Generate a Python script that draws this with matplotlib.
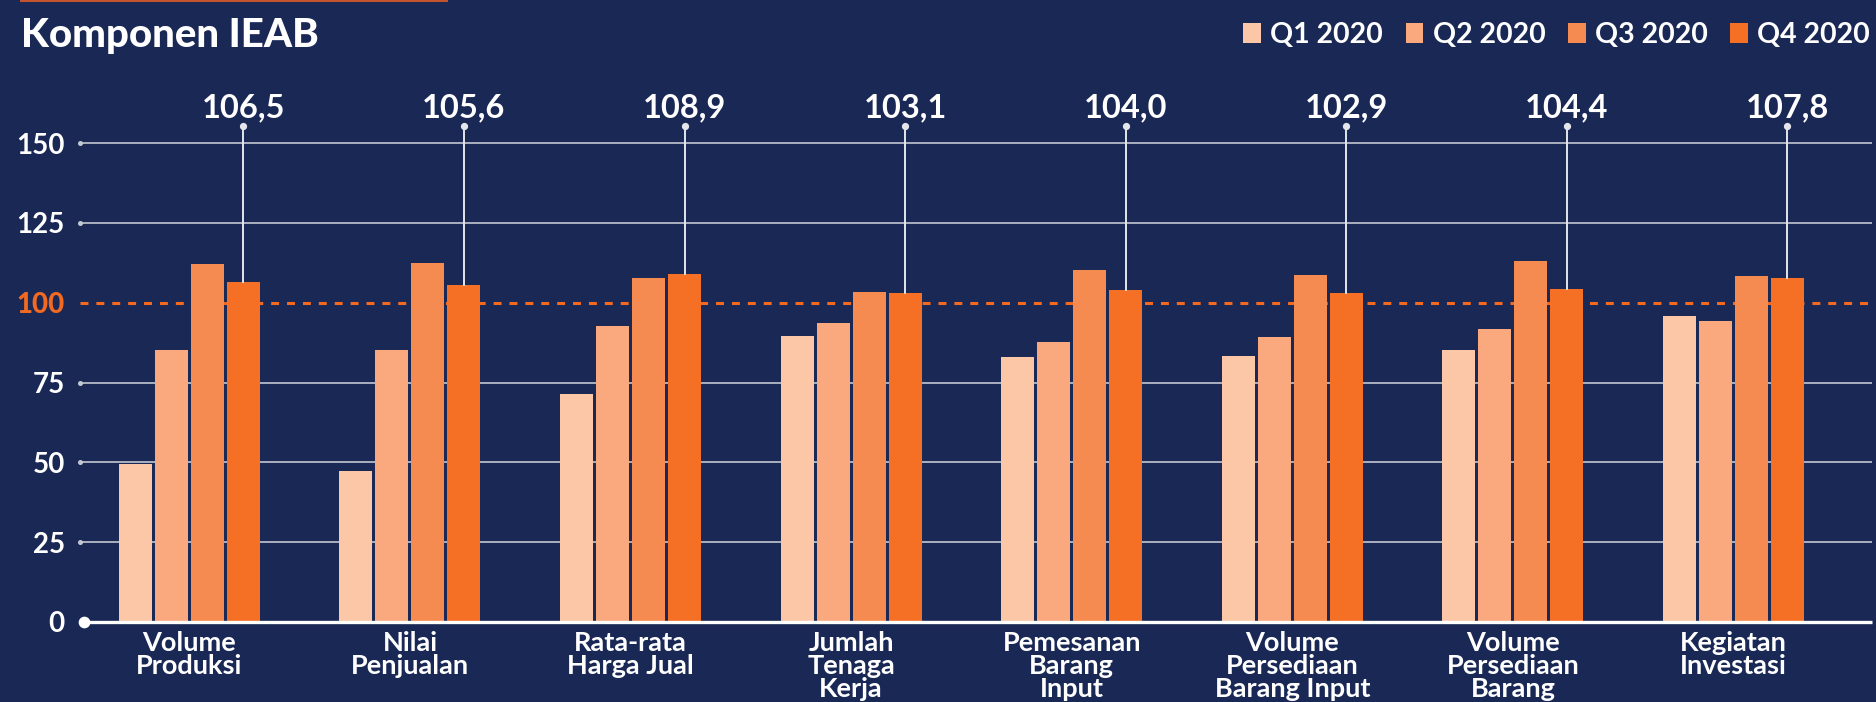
import matplotlib
matplotlib.use("Agg")
import matplotlib.pyplot as plt
from matplotlib.lines import Line2D
import numpy as np

plt.rcParams['font.family'] = ['Lato', 'DejaVu Sans']

# --- data -------------------------------------------------------------
categories = [
    "Volume\nProduksi",
    "Nilai\nPenjualan",
    "Rata-rata\nHarga Jual",
    "Jumlah\nTenaga\nKerja",
    "Pemesanan\nBarang\nInput",
    "Volume\nPersediaan\nBarang Input",
    "Volume\nPersediaan\nBarang",
    "Kegiatan\nInvestasi",
]
quarters = ["Q1 2020", "Q2 2020", "Q3 2020", "Q4 2020"]
q1_2020 = [49.6, 47.4, 71.5, 89.6, 83.0, 83.3, 85.2, 95.8]
q2_2020 = [85.2, 85.2, 92.7, 93.6, 87.7, 89.3, 91.8, 94.3]
q3_2020 = [112.1, 112.4, 107.7, 103.3, 110.2, 108.6, 113.0, 108.3]
q4_2020 = [106.5, 105.6, 108.9, 103.1, 104.0, 102.9, 104.4, 107.8]
y_ticks = [0, 25, 50, 75, 100, 125, 150]
threshold = 100

# --- styling ----------------------------------------------------------
W, H, DPI = 1876, 702, 100
BG = '#1a2856'
BAR_COLORS = ['#fbc7a7', '#f9a97d', '#f68b51', '#f56f24']
ORANGE = '#f26a21'
GRID = '#c3c7d1'
WHITE = '#ffffff'
LEAD = '#e4e6ec'

fig = plt.figure(figsize=(W / DPI, H / DPI), dpi=DPI, facecolor=BG)

px_per_unit = 3.193
y_top = 170
ax = fig.add_axes([80 / W, (H - 622) / H, (1872 - 80) / W, y_top * px_per_unit / H])
ax.set_facecolor(BG)
ax.set_xlim(-0.496, 7.628)
ax.set_ylim(0, y_top)
for s in ax.spines.values():
    s.set_visible(False)

x = np.arange(len(categories))
step, width = 0.1632, 0.1496
series = [q1_2020, q2_2020, q3_2020, q4_2020]
bars = []
for k, (vals, col, lab) in enumerate(zip(series, BAR_COLORS, quarters)):
    b = ax.bar(x + (k - 1.5) * step, vals, width, color=col, label=lab,
               zorder=3, linewidth=0)
    bars.append(b)

# horizontal guides
x_left = ax.get_xlim()[0]
x_right = ax.get_xlim()[1]
for t in y_ticks[1:]:
    if t == threshold:
        ln, = ax.plot([x_left, x_right], [t, t], color=ORANGE, lw=2.2, zorder=1)
        ln.set_dashes((2.6, 2.6))
    else:
        ax.plot([x_left, x_right], [t, t], color=GRID, lw=1.2, zorder=1)
        ax.plot(x_left, t, 'o', ms=2.6, color=GRID, zorder=2, clip_on=False)

# baseline at zero
x_dot = -0.478
ax.plot([x_dot, x_right], [0, 0], color=WHITE, lw=2.4, zorder=4,
        solid_capstyle='butt', clip_on=False)
ax.plot(x_dot, 0, 'o', ms=7.4, color=WHITE, zorder=5, clip_on=False)

# y tick labels
ax.set_yticks(y_ticks)
ax.set_yticklabels([str(t) for t in y_ticks])
ax.tick_params(axis='y', length=0, pad=11, labelsize=20, labelcolor=WHITE)
for lab, t in zip(ax.get_yticklabels(), y_ticks):
    lab.set_fontweight('bold')
    if t == threshold:
        lab.set_color(ORANGE)
        lab.set_fontweight('black')

# category labels
ax.set_xticks(x)
ax.set_xticklabels(categories, linespacing=0.95)
ax.tick_params(axis='x', length=0, pad=6.5, labelsize=19.5, labelcolor=WHITE)
for lab in ax.get_xticklabels():
    lab.set_fontweight('bold')

# Q4 callouts
dot_y, label_y = 155.2, 158.2
for i, v in enumerate(q4_2020):
    xq = x[i] + 1.5 * step
    ax.plot([xq, xq], [v, dot_y], color=LEAD, lw=1.4, zorder=5)
    ax.plot(xq, dot_y, 'o', ms=4.2, color=LEAD, zorder=6, clip_on=False)
    ax.text(xq, label_y, f"{v:.1f}".replace('.', ','), ha='center',
            va='baseline', fontsize=23.5, fontweight='bold', color=WHITE,
            clip_on=False, zorder=6)

# title and accent rule
fig.text(21 / W, 1 - 46.7 / H, "Komponen IEAB", fontsize=29, fontweight='black',
         color=WHITE, ha='left', va='baseline')
fig.add_artist(Line2D([21 / W, 447 / W], [1 - 0.8 / H, 1 - 0.8 / H],
                      color='#c8552b', lw=1.4))

# legend
leg = fig.legend(handles=bars, labels=quarters, loc='center right',
                 bbox_to_anchor=(1870 / W, 1 - 35 / H), ncol=4, frameon=False,
                 prop={'weight': 'bold', 'size': 20.5}, handlelength=0.62,
                 handleheight=0.75, handletextpad=0.32, columnspacing=0.8,
                 borderpad=0, borderaxespad=0)
for t in leg.get_texts():
    t.set_color(WHITE)

fig.savefig("out.png", dpi=DPI, facecolor=BG)
